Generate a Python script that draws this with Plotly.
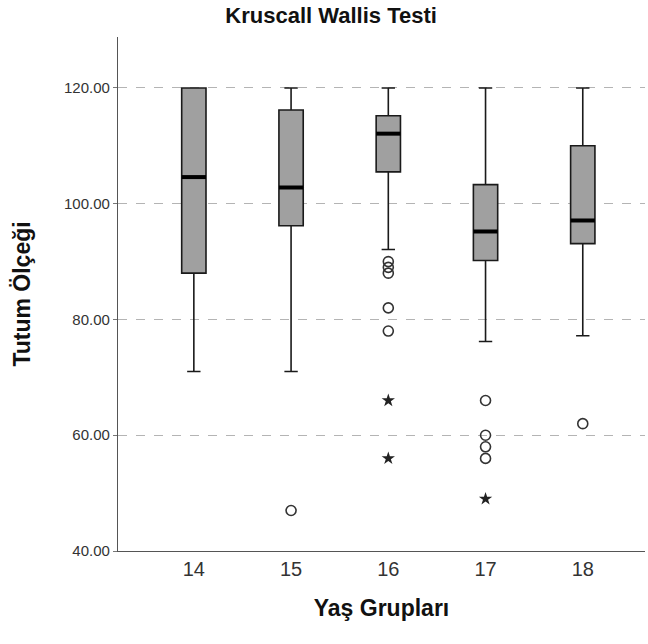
import plotly.graph_objects as go

groups = [14, 15, 16, 17, 18]
q1 = [88.0, 96.2, 105.5, 90.2, 93.1]
median = [104.6, 102.8, 112.1, 95.2, 97.1]
q3 = [120.0, 116.2, 115.2, 103.3, 110.0]
lower_whisker = [71.0, 71.0, 92.1, 76.2, 77.2]
upper_whisker = [120.0, 120.0, 120.0, 120.0, 120.0]

outlier_x = [15, 16, 16, 16, 16, 16, 17, 17, 17, 17, 18]
outlier_y = [47, 90, 89, 88, 82, 78, 66, 60, 58, 56, 62]
extreme_x = [16, 16, 17]
extreme_y = [66, 56, 49]

tick_vals_y = [40, 60, 80, 100, 120]

FONT = "Liberation Sans, Arial, sans-serif"
BOX_W = 0.25

fig = go.Figure()
fig.add_trace(go.Box(
    x=groups, q1=q1, median=median, q3=q3,
    lowerfence=lower_whisker, upperfence=upper_whisker,
    width=BOX_W, whiskerwidth=0.55,
    fillcolor="#a0a0a0", line=dict(color="#1a1a1a", width=1.6),
    boxpoints=False, showlegend=False, hoverinfo="skip",
))

# thicker median bars
mx, my = [], []
for g, m in zip(groups, median):
    mx += [g - BOX_W / 2, g + BOX_W / 2, None]
    my += [m, m, None]
fig.add_trace(go.Scatter(x=mx, y=my, mode="lines",
                         line=dict(color="black", width=4),
                         showlegend=False, hoverinfo="skip"))

fig.add_trace(go.Scatter(x=outlier_x, y=outlier_y, mode="markers",
                         marker=dict(symbol="circle-open", size=10,
                                     color="#333333", line=dict(width=1.6)),
                         showlegend=False))
fig.add_trace(go.Scatter(x=extreme_x, y=extreme_y, mode="markers",
                         marker=dict(symbol="star", size=10, color="#222222"),
                         showlegend=False))

fig.update_layout(
    width=648, height=644,
    margin=dict(l=118, r=3, t=37, b=93),
    paper_bgcolor="white", plot_bgcolor="white",
    font=dict(family=FONT, color="#222222"),
    title=dict(text="<b>Kruscall Wallis Testi</b>", x=0.511, xanchor="center",
               y=0.976, yanchor="middle", xref="container", yref="container",
               font=dict(size=22, color="#111111")),
    xaxis=dict(
        range=[13.22, 18.64], tickmode="array", tickvals=groups,
        ticktext=[str(g) for g in groups],
        showgrid=False, zeroline=False,
        showline=True, linecolor="#555555", linewidth=1.2,
        ticks="", tickfont=dict(size=20, color="#333333"),
        title=dict(text="<b>Yaş Grupları</b>", standoff=20,
                   font=dict(size=23, color="#111111")),
    ),
    yaxis=dict(
        range=[40, 128.8], tickmode="array", tickvals=tick_vals_y,
        tickformat=".2f",
        showgrid=True, gridcolor="#b4b4b4", griddash="dash", gridwidth=1,
        zeroline=False,
        showline=True, linecolor="#555555", linewidth=1.2,
        ticks="outside", ticklen=4, tickcolor="#777777",
        tickfont=dict(size=15, color="#333333"),
        title=dict(text="<b>Tutum Ölçeği</b>", standoff=26,
                   font=dict(size=23, color="#111111")),
    ),
)

fig.write_html("out.html")
